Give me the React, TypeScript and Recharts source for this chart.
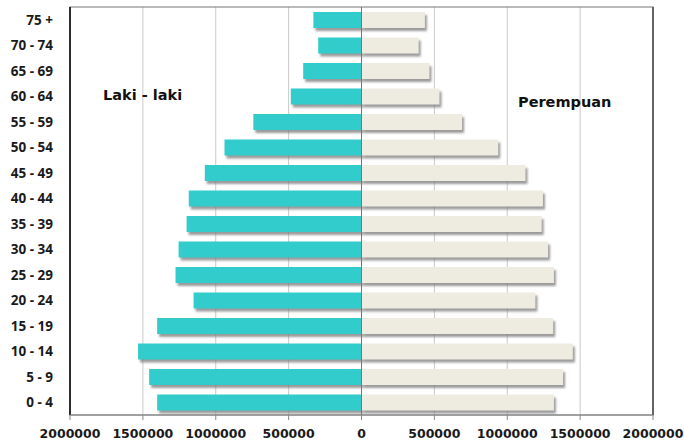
import React from "react";
import {
  BarChart,
  Bar,
  XAxis,
  YAxis,
  CartesianGrid,
  ReferenceLine,
  ReferenceArea,
} from "recharts";

// Age groups, oldest at the top
const ageGroups = [
  "75 +",
  "70 - 74",
  "65 - 69",
  "60 - 64",
  "55 - 59",
  "50 - 54",
  "45 - 49",
  "40 - 44",
  "35 - 39",
  "30 - 34",
  "25 - 29",
  "20 - 24",
  "15 - 19",
  "10 - 14",
  "5 - 9",
  "0 - 4",
];

// Population, men
const lakiLaki = [
  330000, 297000, 400000, 485000, 742000, 940000, 1075000, 1185000, 1200000,
  1255000, 1276000, 1152000, 1402000, 1533000, 1457000, 1402000,
];

// Population, women
const perempuan = [
  435000, 392000, 466000, 535000, 690000, 938000, 1125000, 1245000, 1236000,
  1280000, 1320000, 1193000, 1315000, 1450000, 1383000, 1320000,
];

const xTicks = [-2000000, -1500000, -1000000, -500000, 0, 500000, 1000000, 1500000, 2000000];

// Men are plotted to the left of zero
const data = ageGroups.map((age, i) => ({
  age,
  male: -lakiLaki[i],
  female: perempuan[i],
}));

const ShadowBar = (props: any) => {
  const { x, y, width, height, fill } = props;
  if (width == null || height == null) return null;
  const x0 = Math.min(x, x + width);
  const w = Math.abs(width);
  const y0 = Math.min(y, y + height);
  const h = Math.abs(height);
  if (w === 0) return null;
  return (
    <g>
      <defs>
        <filter id="barShadow" x="-10%" y="-50%" width="120%" height="200%">
          <feGaussianBlur stdDeviation="1" />
        </filter>
      </defs>
      <rect
        x={x0 + 2}
        y={y0 + 3}
        width={w}
        height={h}
        fill="#7a7a7a"
        opacity={0.75}
        filter="url(#barShadow)"
      />
      <rect x={x0} y={y0} width={w} height={h} fill={fill} />
    </g>
  );
};

const tickStyle = {
  fontFamily: "'DejaVu Sans', sans-serif",
  fontWeight: 700,
  fontSize: 12.5,
  fill: "#1a1a1a",
};

const yTickStyle = {
  fontFamily: "'Open Sans', sans-serif",
  fontWeight: 700,
  fontSize: 13.5,
  fill: "#1a1a1a",
};

const labelStyle: React.CSSProperties = {
  position: "absolute",
  fontFamily: "'DejaVu Sans', sans-serif",
  fontWeight: 700,
  fontSize: 14.5,
  color: "#111",
  whiteSpace: "nowrap",
  lineHeight: 1,
};

export default function App() {
  return (
    <div style={{ position: "absolute", left: 0, top: 0, width: 684, height: 446, background: "#fff" }}>
      <BarChart
        width={684}
        height={446}
        data={data}
        layout="vertical"
        stackOffset="sign"
        barSize={16}
        margin={{ top: 7, right: 31, bottom: 0, left: 0 }}
      >
        <CartesianGrid horizontal={false} stroke="#c9c9c9" />
        {/* plot frame */}
        <ReferenceArea x1={-2000000} x2={2000000} fill="none" stroke="#777" strokeWidth={1.2} />
        <XAxis
          type="number"
          domain={[-2000000, 2000000]}
          ticks={xTicks}
          tickFormatter={(v: number) => String(Math.abs(v))}
          tick={tickStyle}
          tickSize={5}
          tickMargin={9}
          height={31}
          stroke="#888"
          interval={0}
        />
        <YAxis
          type="category"
          dataKey="age"
          width={70}
          tick={yTickStyle}
          tickLine={false}
          tickSize={0}
          tickMargin={17}
          axisLine={false}
          interval={0}
        />
        <Bar
          dataKey="male"
          stackId="p"
          fill="#33CCCC"
          shape={<ShadowBar />}
          isAnimationActive={false}
        />
        <Bar
          dataKey="female"
          stackId="p"
          fill="#EEECE1"
          shape={<ShadowBar />}
          isAnimationActive={false}
        />
        <ReferenceLine x={0} stroke="#777" />
        <ReferenceLine x={-2000000} stroke="#111" strokeWidth={1.6} />
        <ReferenceLine x={2000000} stroke="#555" strokeWidth={1.6} />
      </BarChart>
      <div style={{ ...labelStyle, left: 103, top: 88 }}>Laki - laki</div>
      <div style={{ ...labelStyle, left: 518, top: 95 }}>Perempuan</div>
    </div>
  );
}
